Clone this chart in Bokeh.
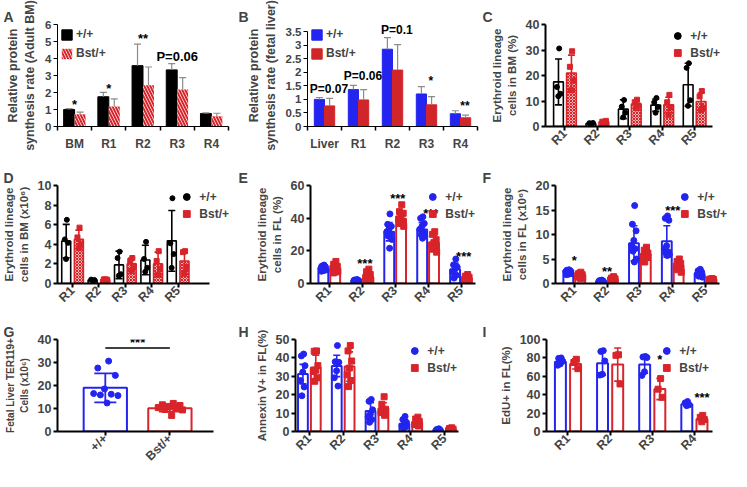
import math
import numpy as np
from bokeh.plotting import figure
from bokeh.models import ColumnDataSource, FixedTicker, Range1d, Legend, LegendItem, Label
from bokeh.layouts import row, column
from bokeh.embed import file_html
from bokeh.resources import INLINE

FONT = "Liberation Sans"
BLUE = "#2424f0"
RED = "#d8242a"
GREY = "#8c8c8c"

# ---------------- data ----------------
# A
a_categories = ["BM", "R1", "R2", "R3", "R4"]
a_wt_mean = [1.00, 1.75, 3.58, 3.33, 0.76]
a_wt_sd = [0.05, 0.26, 1.27, 0.37, 0.04]
a_bst_mean = [0.72, 1.18, 2.42, 2.18, 0.60]
a_bst_sd = [0.13, 0.44, 1.08, 0.70, 0.18]
a_yticks = [0, 1, 2, 3, 4, 5, 6]
a_ann_cat = ["BM", "R1", "R2", "R3"]
a_ann_text = ["*", "*", "**", "P=0.06"]
a_ann_y = [1.30, 2.25, 5.18, 4.13]

# B
b_categories = ["Liver", "R1", "R2", "R3", "R4"]
b_wt_mean = [1.00, 1.36, 2.85, 1.20, 0.47]
b_wt_sd = [0.07, 0.16, 0.43, 0.27, 0.11]
b_bst_mean = [0.76, 0.98, 2.08, 0.80, 0.32]
b_bst_sd = [0.28, 0.38, 0.94, 0.30, 0.10]
b_yticks = [0, 0.5, 1, 1.5, 2, 2.5, 3, 3.5]
b_ytick_labels = ["0", "0.5", "1", "1.5", "2", "2.5", "3", "3.5"]
b_ann_cat = ["Liver", "R1", "R2", "R3", "R4"]
b_ann_text = ["P=0.07", "P=0.06", "P=0.1", "*", "**"]
b_ann_y = [1.40, 1.86, 3.55, 1.66, 0.74]

# C
c_categories = ["R1", "R2", "R3", "R4", "R5"]
c_wt_mean = [17.5, 1.2, 6.8, 8.4, 16.4]
c_wt_sd = [9.0, 0.3, 3.7, 2.4, 8.4]
c_wt_points = [[30.6, 15.5, 12.8, 11.9], [1.0, 1.3, 1.4, 1.1], [10.4, 7.8, 5.4, 3.6],
               [11.2, 9.5, 7.6, 5.4], [24.8, 23.0, 10.3, 8.1]]
c_bst_mean = [21.0, 1.8, 8.8, 8.5, 9.8]
c_bst_sd = [7.0, 0.35, 1.4, 3.0, 3.4]
c_bst_points = [[29.5, 23.4, 18.0, 14.2], [1.5, 1.9, 2.2, 1.6], [10.5, 9.5, 8.2, 7.2],
                [12.4, 9.5, 7.5, 4.6], [13.9, 11.8, 7.3, 6.5]]
c_yticks = [0, 10, 20, 30, 40]

# D
d_categories = ["R1", "R2", "R3", "R4", "R5"]
d_wt_mean = [4.33, 0.35, 1.9, 2.4, 4.35]
d_wt_sd = [1.7, 0.05, 1.4, 1.5, 3.1]
d_wt_points = [[6.5, 4.5, 4.15, 2.5], [0.3, 0.4, 0.35, 0.3], [3.25, 2.6, 0.95, 0.8],
               [4.25, 2.5, 1.6, 1.2], [8.7, 4.1, 3.0, 1.6]]
d_bst_mean = [4.5, 0.4, 2.0, 2.0, 2.3]
d_bst_sd = [0.95, 0.03, 0.6, 1.2, 1.0]
d_bst_points = [[5.7, 4.7, 4.0, 3.6], [0.4, 0.42, 0.38, 0.4], [2.6, 2.3, 1.8, 1.3],
                [3.3, 2.3, 1.5, 0.9], [3.3, 3.2, 1.7, 1.0]]
d_yticks = [0, 2, 4, 6, 8, 10]

# E
e_categories = ["R1", "R2", "R3", "R4", "R5"]
e_wt_mean = [9.2, 1.8, 31.7, 33.1, 8.7]
e_wt_sd = [1.2, 0.35, 5.6, 4.2, 3.8]
e_wt_points = [[11.3, 10.6, 10.2, 9.8, 9.4, 9.0, 8.7, 8.3, 7.9, 7.5],
               [2.4, 2.2, 2.0, 1.9, 1.8, 1.7, 1.6, 1.5, 1.4, 1.2],
               [42.6, 36.2, 35.0, 33.5, 31.7, 30.3, 29.0, 27.0, 21.6],
               [40.8, 39.9, 36.8, 35.0, 33.2, 31.3, 30.0, 29.0, 27.7],
               [15.0, 11.4, 10.1, 8.7, 6.9, 5.1, 3.3]]
e_bst_mean = [9.0, 4.1, 39.7, 25.0, 3.3]
e_bst_sd = [2.1, 2.3, 3.9, 4.3, 1.4]
e_bst_points = [[13.5, 11.8, 10.5, 9.8, 9.0, 8.5, 8.0, 7.5, 7.0, 6.5],
                [8.8, 7.2, 5.5, 4.6, 3.8, 3.2, 2.6, 2.1, 1.5],
                [48.2, 44.0, 43.0, 41.3, 39.5, 38.0, 36.7, 35.0],
                [31.7, 30.1, 26.8, 25.0, 23.6, 22.3, 21.0, 19.2],
                [5.5, 4.5, 3.8, 3.0, 2.5, 2.0, 1.5]]
e_yticks = [0, 20, 40, 60]
e_ann_cat = ["R2", "R3", "R4", "R5"]
e_ann_text = ["***", "***", "***", "***"]
e_ann_y = [12.5, 52.3, 42.8, 16.5]

# F
f_categories = ["R1", "R2", "R3", "R4", "R5"]
f_wt_mean = [2.7, 0.45, 8.2, 8.6, 2.0]
f_wt_sd = [0.3, 0.15, 3.6, 3.2, 0.5]
f_wt_points = [[2.8, 2.7, 2.6, 2.5, 2.4, 2.3, 2.2, 2.0, 1.9, 1.8],
               [0.7, 0.6, 0.5, 0.5, 0.4, 0.4, 0.3, 0.2],
               [15.9, 12.1, 10.75, 8.8, 7.7, 7.1, 6.6, 5.0, 4.4],
               [13.8, 13.3, 12.9, 7.7, 7.1, 6.5, 6.2, 5.9, 5.7],
               [2.9, 2.6, 2.3, 2.1, 1.9, 1.7, 1.5, 1.3]]
f_bst_mean = [1.7, 0.9, 6.0, 3.6, 0.8]
f_bst_sd = [0.4, 0.3, 1.0, 0.8, 0.2]
f_bst_points = [[2.3, 2.0, 1.8, 1.7, 1.6, 1.5, 1.3, 1.2, 1.0],
                [1.4, 1.1, 0.95, 0.85, 0.7, 0.6, 0.5],
                [7.4, 6.8, 6.2, 5.9, 5.5, 5.3, 4.4],
                [5.0, 4.5, 4.1, 3.8, 3.5, 3.2, 2.8, 2.3],
                [1.0, 0.9, 0.8, 0.75, 0.7, 0.6, 0.5]]
f_yticks = [0, 5, 10, 15, 20]
f_ann_cat = ["R1", "R2", "R4"]
f_ann_text = ["*", "**", "***"]
f_ann_y = [4.6, 2.4, 14.8]

# G
g_categories = ["+/+", "Bst/+"]
g_mean = [19.0, 10.1]
g_sd = [6.3, 1.5]
g_points = [[30.6, 27.6, 24.4, 18.5, 16.5, 16.2, 15.9, 15.6, 12.4],
            [12.2, 11.6, 11.3, 10.9, 10.4, 10.0, 9.6, 9.4, 7.0]]
g_yticks = [0, 10, 20, 30, 40]
g_sig_y = 36.3
g_sig_text = "***"
g_sig_text_y = 38.6

# H
h_categories = ["R1", "R2", "R3", "R4", "R5"]
h_wt_mean = [31.2, 35.6, 11.1, 4.2, 0.8]
h_wt_sd = [5.3, 5.8, 4.5, 2.0, 0.4]
h_wt_points = [[42.1, 41.1, 35.8, 32.3, 27.7, 24.2, 19.4],
               [46.7, 37.9, 37.6, 33.0, 29.2, 24.7],
               [17.4, 16.4, 11.8, 9.5, 8.0, 6.5, 5.0],
               [8.2, 6.5, 5.0, 4.0, 3.0, 2.5, 1.8],
               [1.5, 1.1, 0.8, 0.6, 0.3]]
h_bst_mean = [34.8, 35.3, 12.6, 5.0, 1.2]
h_bst_sd = [6.7, 8.0, 3.0, 1.6, 0.5]
h_bst_points = [[43.8, 43.6, 35.8, 33.3, 32.6, 29.2, 27.3],
                [46.7, 43.8, 38.3, 34.5, 30.8, 27.7, 24.4],
                [18.9, 14.8, 12.1, 11.5, 10.3, 8.8],
                [7.8, 6.8, 5.5, 4.5, 3.8, 3.0],
                [2.0, 1.6, 1.2, 0.9, 0.5]]
h_yticks = [0, 10, 20, 30, 40, 50]

# I
i_categories = ["R1", "R2", "R3", "R4"]
i_wt_mean = [75.8, 74.3, 72.8, 29.6]
i_wt_sd = [2.5, 13.0, 9.5, 1.7]
i_wt_points = [[80.0, 79.5, 76.4, 73.4, 72.0], [87.9, 87.0, 76.7, 62.2, 61.3],
               [81.6, 81.0, 80.4, 65.0, 61.0], [32.6, 31.1, 29.0, 28.1]]
i_bst_mean = [73.4, 72.8, 46.2, 13.6]
i_bst_sd = [5.5, 18.0, 11.5, 2.8]
i_bst_points = [[78.5, 75.0, 68.3], [83.4, 82.8, 51.7], [57.5, 46.0, 37.2],
                [17.5, 15.4, 13.0, 10.6]]
i_yticks = [0, 20, 40, 60, 80, 100]
i_ann_cat = ["R3", "R4"]
i_ann_text = ["*", "***"]
i_ann_y = [78.0, 36.5]

LEG = ["+/+", "Bst/+"]


# ---------------- helpers ----------------
def base_fig(letter, geom, xr, ymax, headroom=0):
    w, h, bl, br, bt, bb = geom
    frame_h = h - bt - bb
    y_end = ymax * frame_h / (frame_h - headroom)
    p = figure(width=w, height=h, x_range=Range1d(*xr), y_range=Range1d(0, y_end),
               output_backend="svg", toolbar_location=None,
               min_border_left=bl, min_border_right=br,
               min_border_top=bt, min_border_bottom=bb)
    p.xgrid.visible = False
    p.ygrid.visible = False
    p.outline_line_color = None
    p.title.text = letter
    p.title.text_font = FONT
    p.title.text_font_size = "14px"
    p.title.text_font_style = "bold"
    p.title.align = "left"
    p.title.offset = -(bl - 3)
    p.title.standoff = 0
    return p


def style_axis(ax, size, width, label_size):
    ax.axis_line_width = width
    ax.major_tick_line_width = width
    ax.major_tick_in = 0
    ax.major_tick_out = 4
    ax.minor_tick_line_color = None
    ax.major_label_text_font = FONT
    ax.major_label_text_font_style = "bold"
    ax.major_label_text_font_size = size
    ax.major_label_standoff = 2
    ax.axis_label_text_font = FONT
    ax.axis_label_text_font_style = "bold"
    ax.axis_label_text_font_size = label_size
    ax.axis_label_standoff = 5


def tick_key(v):
    return int(v) if float(v).is_integer() else float(v)


def add_text(p, xs, ys, texts, size):
    for x, y, t in zip(xs, ys, texts):
        p.add_layout(Label(x=float(x), y=float(y), text=t, text_font=FONT,
                           text_font_style="bold", text_font_size=size,
                           text_align="center", text_baseline="middle",
                           text_color="black"))


def style_legend(leg, size, gw, gh, spacing):
    leg.label_text_font = FONT
    leg.label_text_font_style = "bold"
    leg.label_text_font_size = size
    leg.glyph_width = gw
    leg.glyph_height = gh
    leg.label_height = gh
    leg.spacing = spacing
    leg.padding = 0
    leg.margin = 3
    leg.label_standoff = 3
    leg.background_fill_alpha = 0
    leg.border_line_alpha = 0


def points_source(xcenters, groups, half):
    xs, ys = [], []
    for xc, vals in zip(xcenters, groups):
        offs = [half * (2 * (((k + 1) * 0.6180339) % 1.0) - 1) for k in range(len(vals))]
        xs += [xc + o for o in offs]
        ys += list(vals)
    return ColumnDataSource(dict(x=xs, y=ys))


def excel_panel(letter, geom, cats, wt_mean, wt_sd, bst_mean, bst_sd, ymax, yticks,
                ytick_labels, ylabel, wt_style, bst_style, ann_cat, ann_text, ann_y,
                ann_dx, ann_size, off, bw, headroom=0):
    n = len(cats)
    xs = np.arange(1, n + 1, dtype=float)
    p = base_fig(letter, geom, (0.5, n + 0.5), ymax, headroom)
    wt = ColumnDataSource(dict(x=xs - off, top=wt_mean,
                               hi=np.array(wt_mean) + np.array(wt_sd)))
    bs = ColumnDataSource(dict(x=xs + off, top=bst_mean,
                               hi=np.array(bst_mean) + np.array(bst_sd)))
    r1 = p.vbar(x="x", top="top", width=bw, source=wt, **wt_style)
    r2 = p.vbar(x="x", top="top", width=bw, source=bs, **bst_style)
    for src in (wt, bs):
        p.segment(x0="x", y0="top", x1="x", y1="hi", source=src, line_color=GREY, line_width=1.2)
        p.scatter(x="x", y="hi", marker="dash", size=7, line_color=GREY, line_width=1.2, source=src)
    idx = {c: i + 1 for i, c in enumerate(cats)}
    add_text(p, [idx[c] + ann_dx for c in ann_cat], ann_y, ann_text, ann_size)
    leg = Legend(items=[LegendItem(label=LEG[0], renderers=[r1]),
                        LegendItem(label=LEG[1], renderers=[r2])], location="top_left")
    style_legend(leg, "12px", 13, 13, 5)
    p.add_layout(leg)
    style_axis(p.xaxis[0], "12px", 1, "12.5px")
    style_axis(p.yaxis[0], "11.5px", 1, "12.5px")
    p.xaxis.ticker = FixedTicker(ticks=list(xs), minor_ticks=list(np.arange(0.5, n + 1, 1.0)))
    p.xaxis.major_label_overrides = {tick_key(x): c for x, c in zip(xs, cats)}
    p.xaxis.major_tick_line_color = None
    p.xaxis.minor_tick_line_color = "black"
    p.xaxis.minor_tick_in = 0
    p.xaxis.minor_tick_out = 4
    p.xaxis.minor_tick_line_width = 1.5
    p.xaxis.major_label_standoff = 6
    p.yaxis.ticker = FixedTicker(ticks=yticks)
    p.yaxis.bounds = (0, ymax)
    p.yaxis.major_label_overrides = {tick_key(t): l for t, l in zip(yticks, ytick_labels)}
    p.yaxis.axis_label = ylabel
    return p


def gp_panel(letter, geom, cats, xr, xbound_end, ymax, yticks, ylabel,
             wt_mean, wt_sd, wt_pts, bst_mean, bst_sd, bst_pts,
             wt_color, bst_fill, bst_hatch, off, bw, bar_lw, pt_size,
             ann_cat=(), ann_text=(), ann_y=(), ann_dx=0.0, legend_loc="top_right"):
    n = len(cats)
    xs = np.arange(1, n + 1, dtype=float)
    p = base_fig(letter, geom, xr, ymax)
    wm, ws = np.array(wt_mean), np.array(wt_sd)
    bm, bsd = np.array(bst_mean), np.array(bst_sd)
    wt = ColumnDataSource(dict(x=xs - off, top=wm, lo=wm - ws, hi=wm + ws))
    bs = ColumnDataSource(dict(x=xs + off, top=bm, lo=bm - bsd, hi=bm + bsd))
    p.vbar(x="x", top="top", width=bw, source=wt, fill_color="white",
           line_color=wt_color, line_width=bar_lw)
    if bst_hatch:
        p.vbar(x="x", top="top", width=bw, source=bs, fill_color=bst_fill,
               line_color=RED, line_width=bar_lw, hatch_pattern=bst_hatch,
               hatch_color=RED, hatch_scale=3, hatch_weight=1)
    else:
        p.vbar(x="x", top="top", width=bw, source=bs, fill_color=bst_fill,
               line_color=RED, line_width=bar_lw)
    for src, col in ((wt, wt_color), (bs, RED)):
        p.segment(x0="x", y0="lo", x1="x", y1="hi", source=src, line_color=col, line_width=1.6)
        p.scatter(x="x", y="hi", marker="dash", size=7, line_color=col, line_width=1.6, source=src)
        p.scatter(x="x", y="lo", marker="dash", size=7, line_color=col, line_width=1.6, source=src)
    r_wt = p.scatter(x="x", y="y", source=points_source(xs - off, wt_pts, bw * 0.3),
                     marker="circle", size=pt_size, fill_color=wt_color, line_color=wt_color)
    r_bs = p.scatter(x="x", y="y", source=points_source(xs + off, bst_pts, bw * 0.3),
                     marker="square", size=pt_size, fill_color=RED, line_color=RED)
    if ann_cat:
        idx = {c: i + 1 for i, c in enumerate(cats)}
        add_text(p, [idx[c] + ann_dx for c in ann_cat], ann_y, ann_text, "13px")
    leg = Legend(items=[LegendItem(label=LEG[0], renderers=[r_wt]),
                        LegendItem(label=LEG[1], renderers=[r_bs])], location=legend_loc)
    style_legend(leg, "12px", 20, 17, 0)
    p.add_layout(leg)
    style_axis(p.xaxis[0], "12.5px", 2, "11.5px")
    style_axis(p.yaxis[0], "12.5px", 2, "11.5px")
    p.xaxis.ticker = FixedTicker(ticks=list(xs))
    p.xaxis.major_label_overrides = {tick_key(x): c for x, c in zip(xs, cats)}
    p.xaxis.major_label_orientation = math.pi / 4
    p.xaxis.major_label_standoff = 1
    p.xaxis.bounds = (xr[0], xbound_end)
    p.yaxis.ticker = FixedTicker(ticks=yticks)
    p.yaxis.bounds = (0, ymax)
    p.yaxis.axis_label = ylabel
    return p


# ---------------- panels ----------------
pA = excel_panel("A", (235, 155, 57, 7, 17, 23), a_categories, a_wt_mean, a_wt_sd,
                 a_bst_mean, a_bst_sd, 6, a_yticks, [str(t) for t in a_yticks],
                 "Relative protein\nsynthesis rate (Adult BM)",
                 dict(fill_color="black", line_color="black"),
                 dict(fill_color="white", line_color=None, hatch_pattern="left_diagonal_line",
                      hatch_color=RED, hatch_scale=6, hatch_weight=2),
                 a_ann_cat, a_ann_text, a_ann_y, 0.0, "13px", 0.16, 0.32)

pB = excel_panel("B", (244, 155, 72, 2, 17, 23), b_categories, b_wt_mean, b_wt_sd,
                 b_bst_mean, b_bst_sd, 3.5, b_yticks, b_ytick_labels,
                 "Relative protein\nsynthesis rate (fetal liver)",
                 dict(fill_color=BLUE, line_color=BLUE),
                 dict(fill_color="#d0262a", line_color="#d0262a"),
                 b_ann_cat, b_ann_text, b_ann_y, 0.13, "12px", 0.15, 0.3, headroom=8)

pC = gp_panel("C", (252, 155, 66, 8, 24, 25), c_categories, (0.4, 5.89), 5.55, 40,
              c_yticks, "Erythroid lineage\ncells in BM (%)",
              c_wt_mean, c_wt_sd, c_wt_points, c_bst_mean, c_bst_sd, c_bst_points,
              "black", "#f3b3b3", "x", 0.2, 0.3, 1.6, 5)

pD = gp_panel("D", (235, 157, 57, 3, 24, 27), d_categories, (0.43, 7.06), 6.17, 10,
              d_yticks, "Erythroid lineage\ncells in BM (x10\u2076)",
              d_wt_mean, d_wt_sd, d_wt_points, d_bst_mean, d_bst_sd, d_bst_points,
              "black", "#f3b3b3", "x", 0.24, 0.34, 1.6, 5)

pE = gp_panel("E", (244, 157, 75, 1, 30, 24), e_categories, (0.43, 5.53), 5.43, 60,
              e_yticks, "Erythroid lineage\ncells in FL (%)",
              e_wt_mean, e_wt_sd, e_wt_points, e_bst_mean, e_bst_sd, e_bst_points,
              BLUE, "white", None, 0.18, 0.3, 2, 6,
              e_ann_cat, e_ann_text, e_ann_y, 0.08)

pF = gp_panel("F", (252, 157, 76, 1, 30, 24), f_categories, (0.43, 5.76), 5.43, 20,
              f_yticks, "Erythroid lineage\ncells in FL (x10\u2076)",
              f_wt_mean, f_wt_sd, f_wt_points, f_bst_mean, f_bst_sd, f_bst_points,
              BLUE, "white", None, 0.18, 0.3, 2, 6,
              f_ann_cat, f_ann_text, f_ann_y, 0.0)

pH = gp_panel("H", (244, 159, 60, 19, 20, 33), h_categories, (0.59, 5.47), 5.41, 50,
              h_yticks, "Annexin V+ in FL(%)",
              h_wt_mean, h_wt_sd, h_wt_points, h_bst_mean, h_bst_sd, h_bst_points,
              BLUE, "white", None, 0.19, 0.29, 2, 6)

pI = gp_panel("I", (252, 159, 67, 19, 27, 26), i_categories, (0.49, 4.43), 4.43, 100,
              i_yticks, "EdU+ in FL(%)",
              i_wt_mean, i_wt_sd, i_wt_points, i_bst_mean, i_bst_sd, i_bst_points,
              BLUE, "white", None, 0.18, 0.26, 2, 6,
              i_ann_cat, i_ann_text, i_ann_y, 0.18)

# G
pG = base_fig("G", (235, 159, 57, 22, 22, 36), (0.26, 2.675), 40)
g_x = np.arange(1, len(g_categories) + 1, dtype=float)
g_colors = [BLUE, RED]
g_markers = ["circle", "square"]
gm, gs = np.array(g_mean), np.array(g_sd)
g_src = ColumnDataSource(dict(x=g_x, top=gm, lo=gm - gs, hi=gm + gs, c=g_colors))
pG.vbar(x="x", top="top", width=0.67, source=g_src, fill_color="white", line_color="c", line_width=2)
pG.segment(x0="x", y0="lo", x1="x", y1="hi", source=g_src, line_color="c", line_width=1.8)
pG.scatter(x="x", y="hi", marker="dash", size=22, line_color="c", line_width=1.8, source=g_src)
pG.scatter(x="x", y="lo", marker="dash", size=22, line_color="c", line_width=1.8, source=g_src)
for k in range(len(g_categories)):
    pG.scatter(x="x", y="y", source=points_source([g_x[k]], [g_points[k]], 0.22),
               marker=g_markers[k], size=6, fill_color=g_colors[k], line_color=g_colors[k])
pG.segment(x0=[g_x[0]], y0=[g_sig_y], x1=[g_x[1]], y1=[g_sig_y], line_color="black", line_width=1.5)
add_text(pG, [g_x.mean()], [g_sig_text_y], [g_sig_text], "13px")
style_axis(pG.xaxis[0], "12.5px", 2, "10px")
style_axis(pG.yaxis[0], "12.5px", 2, "10px")
pG.xaxis.ticker = FixedTicker(ticks=list(g_x))
pG.xaxis.major_label_overrides = {tick_key(x): c for x, c in zip(g_x, g_categories)}
pG.xaxis.major_label_orientation = math.pi / 4
pG.xaxis.major_label_standoff = 1
pG.yaxis.ticker = FixedTicker(ticks=g_yticks)
pG.yaxis.bounds = (0, 40)
pG.yaxis.axis_label = "Fetal Liver TER119+\nCells (x10\u2076)"

layout = column(row(pA, pB, pC), row(pD, pE, pF), row(pG, pH, pI))
open("out.html", "w").write(file_html(layout, INLINE))
